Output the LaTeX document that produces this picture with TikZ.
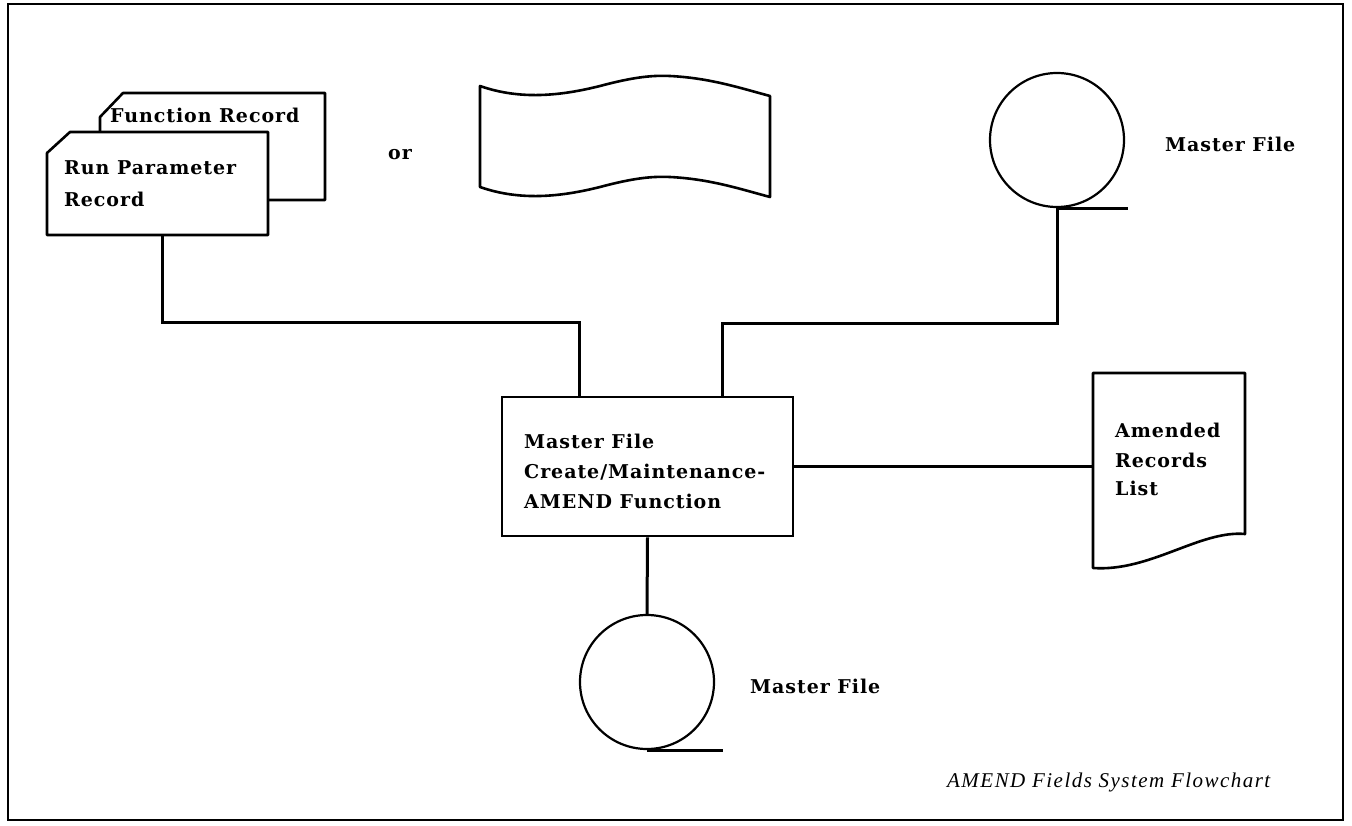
\documentclass[tikz,border=0pt]{standalone}
\usepackage{fontspec}
\setmainfont{DejaVu Serif}[LetterSpace=5]
\newfontfamily\capfont{Liberation Serif}[LetterSpace=7]
\tikzset{
  ln/.style={line width=3pt},
  shp/.style={line width=2.6pt, line join=round},
  reel/.style={circle, draw, line width=2.2pt, minimum size=134pt, inner sep=0pt},
  lbl/.style={anchor=base west, inner sep=0pt, font=\bfseries\fontsize{19}{22}\selectfont},
  procbox/.style={rectangle, draw, line width=2.6pt, minimum width=291pt, minimum height=139pt, inner sep=0pt},
  area/.style={rectangle, inner sep=0pt}
}
\begin{document}
\begin{tikzpicture}[x=1pt,y=-1pt]
\useasboundingbox (0,0) rectangle (1352,826);
% frame
\draw[line width=2.6pt] (8,4) rectangle (1343,820);

% back card (Function Record)
\draw[shp] (100,132) -- (100,117) -- (123,93) -- (325,93) -- (325,200) -- (268,200);
% front card (Run Parameter Record)
\node[area, minimum width=221pt, minimum height=103pt] (run) at (157.5,183.5) {};
\draw[shp, fill=white] (47,153) -- (70,132) -- (268,132) -- (268,235) -- (47,235) -- cycle;
\node[lbl] (t1) at (110,123) {Function Record};
\node[lbl] (t2) at (64,175) {Run Parameter};
\node[lbl] (t3) at (64,207) {Record};

\node[lbl] (or) at (388,160) {or};

% punched tape
\draw[shp] (480,86) .. controls (520,100) and (560,96) .. (600,86)
  .. controls (630,78) and (650,75) .. (670,76)
  .. controls (710,78) and (740,88) .. (770,96)
  -- (770,197)
  .. controls (740,189) and (710,179) .. (670,177)
  .. controls (650,176) and (630,179) .. (600,187)
  .. controls (560,197) and (520,201) .. (480,187) -- cycle;

% top master file
\node[reel] (mt) at (1057,140) {};
\draw[ln] (mt.south) -- ++(71pt,0);
\node[lbl] (t4) at (1165,152) {Master File};

% process box
\node[procbox] (box) at (647.5,466.5) {};
\node[lbl] (t5) at (524,448) {Master File};
\node[lbl] (t6) at (524,478) {Create/Maintenance-};
\node[lbl] (t7) at (524,508) {AMEND Function};

% connectors to box
\draw[ln] ([xshift=4.5pt]run.south) -- ++(0,-87pt) -| ([xshift=-68.5pt]box.north);
\draw[ln] (mt.south) -- ++(0,-115pt) -| ([xshift=74.5pt]box.north);

% document
\node[area, minimum width=152pt, minimum height=188pt] (doc) at (1169,467) {};
\draw[shp] (1093,373) -- (1245,373) -- (1245,534)
  .. controls (1200,530) and (1150,572) .. (1093,568) -- cycle;
\node[lbl] (t8) at (1115,437) {Amended};
\node[lbl] (t9) at (1115,467) {Records};
\node[lbl] (t10) at (1115,495) {List};
\draw[ln] (box.east) -- (doc.west |- box.east);

% bottom master file
\node[reel] (mb) at (647,682) {};
\draw[ln] (box.south) -- (mb.north);
\draw[ln] (mb.south) -- ++(76pt,0);
\node[lbl] (t11) at (750,693) {Master File};

% caption
\node[anchor=base west, inner sep=0pt, font=\capfont\itshape\fontsize{21}{24}\selectfont] (cap) at (947,787) {AMEND Fields System Flowchart};
\end{tikzpicture}
\end{document}
